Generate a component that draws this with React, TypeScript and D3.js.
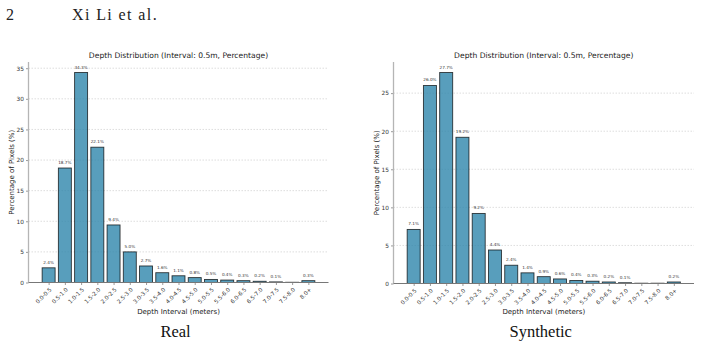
import React, { useRef, useEffect } from 'react';
import * as d3 from 'd3';

// depth bins, 0.5 m each
const depthBins = [
  '0.0-0.5', '0.5-1.0', '1.0-1.5', '1.5-2.0', '2.0-2.5', '2.5-3.0', '3.0-3.5', '3.5-4.0',
  '4.0-4.5', '4.5-5.0', '5.0-5.5', '5.5-6.0', '6.0-6.5', '6.5-7.0', '7.0-7.5', '7.5-8.0', '8.0+',
];

// percentage of pixels per bin
const realPct = [2.4, 18.7, 34.3, 22.1, 9.4, 5.0, 2.7, 1.6, 1.1, 0.8, 0.5, 0.4, 0.3, 0.2, 0.1, 0.04, 0.3];
const synthPct = [7.1, 26.0, 27.7, 19.2, 9.2, 4.4, 2.4, 1.4, 0.9, 0.6, 0.4, 0.3, 0.2, 0.1, 0.04, 0.04, 0.2];

const realTicks = [0, 5, 10, 15, 20, 25, 30, 35];
const synthTicks = [0, 5, 10, 15, 20, 25];

const chartTitle = 'Depth Distribution (Interval: 0.5m, Percentage)';
const xLabel = 'Depth Interval (meters)';
const yLabel = 'Percentage of Pixels (%)';

interface PanelSpec {
  values: number[];
  ticks: number[];
  left: number;
  right: number;
  top: number;
  bottom: number;
  caption: string;
}

const panels: PanelSpec[] = [
  { values: realPct, ticks: realTicks, left: 28.5, right: 328.5, top: 62, bottom: 282.5, caption: 'Real' },
  { values: synthPct, ticks: synthTicks, left: 393.5, right: 694, top: 62, bottom: 283.5, caption: 'Synthetic' },
];

const sans = '"DejaVu Sans", sans-serif';
const serif = '"Liberation Serif", "DejaVu Serif", serif';

const App: React.FC = () => {
  const svgRef = useRef<SVGSVGElement | null>(null);

  useEffect(() => {
    if (!svgRef.current) return;
    const svg = d3.select(svgRef.current);
    svg.selectAll('*').remove();

    // running header
    svg.append('text').attr('x', 6).attr('y', 20)
      .attr('font-family', serif).attr('font-size', 16).attr('fill', '#222').text('2');
    svg.append('text').attr('x', 72).attr('y', 20)
      .attr('font-family', serif).attr('font-size', 16).attr('letter-spacing', 1.4)
      .attr('fill', '#222').text('Xi Li et al.');

    panels.forEach(p => {
      const n = depthBins.length;
      // matplotlib-style limits: bars of width 0.8 with 5% margins
      const x = d3.scaleLinear().domain([-1.24, n - 1 + 1.24]).range([p.left, p.right]);
      const yMax = d3.max(p.values)! * 1.05;
      const y = d3.scaleLinear().domain([0, yMax]).range([p.bottom, p.top]);
      const g = svg.append('g');
      const cx = (p.left + p.right) / 2;

      // grid
      g.append('g').selectAll('line').data(p.ticks).enter().append('line')
        .attr('x1', p.left).attr('x2', p.right)
        .attr('y1', d => y(d)).attr('y2', d => y(d))
        .attr('stroke', '#cfcfcf').attr('stroke-width', 0.7).attr('stroke-dasharray', '1.5,1.5');

      // bars
      g.append('g').selectAll('rect').data(p.values).enter().append('rect')
        .attr('x', (_d, i) => x(i - 0.4))
        .attr('width', x(0.4) - x(-0.4))
        .attr('y', d => y(d))
        .attr('height', d => p.bottom - y(d))
        .attr('fill', '#2E86AB').attr('fill-opacity', 0.8)
        .attr('stroke', '#000').attr('stroke-opacity', 0.75).attr('stroke-width', 0.9);

      // value labels
      g.append('g').selectAll('text').data(p.values.map((v, i) => ({ v, i })).filter(d => d.v >= 0.1))
        .enter().append('text')
        .attr('x', d => x(d.i)).attr('y', d => y(d.v) - 4)
        .attr('text-anchor', 'middle')
        .attr('font-family', sans).attr('font-size', 4.2).attr('fill', '#333')
        .text(d => `${d3.format('.1f')(d.v)}%`);

      // y axis
      const yAxis = g.append('g').attr('transform', `translate(${p.left},0)`)
        .call(d3.axisLeft(y).tickValues(p.ticks).tickSize(2.5).tickPadding(2).tickFormat(d3.format('d')));
      yAxis.select('.domain').remove();
      yAxis.selectAll('line').attr('stroke', '#555').attr('stroke-width', 0.6);
      yAxis.selectAll('text').attr('font-family', sans).attr('font-size', 5.8).attr('fill', '#333');
      g.append('line').attr('x1', p.left).attr('x2', p.left).attr('y1', p.top).attr('y2', p.bottom)
        .attr('stroke', '#b5b5b5').attr('stroke-width', 1.3);

      // x axis
      const xAxis = g.append('g').attr('transform', `translate(0,${p.bottom})`)
        .call(d3.axisBottom(x).tickValues(d3.range(n)).tickSize(2.5).tickFormat(() => ''));
      xAxis.select('.domain').remove();
      xAxis.selectAll('line').attr('stroke', '#555').attr('stroke-width', 0.6);
      g.append('line').attr('x1', p.left).attr('x2', p.right).attr('y1', p.bottom).attr('y2', p.bottom)
        .attr('stroke', '#777').attr('stroke-width', 1);

      g.append('g').selectAll('text').data(depthBins).enter().append('text')
        .attr('transform', (_d, i) => `translate(${x(i) + 2},${p.bottom + 6}) rotate(-45)`)
        .attr('text-anchor', 'end').attr('dy', '0.35em')
        .attr('font-family', sans).attr('font-size', 5.6).attr('fill', '#333')
        .text(d => d);

      // titles and labels
      g.append('text').attr('x', cx).attr('y', 58).attr('text-anchor', 'middle')
        .attr('font-family', sans).attr('font-size', 7.6).attr('fill', '#222').text(chartTitle);
      g.append('text').attr('x', cx).attr('y', 314).attr('text-anchor', 'middle')
        .attr('font-family', sans).attr('font-size', 7).attr('fill', '#222').text(xLabel);
      g.append('text')
        .attr('transform', `translate(${p.left - 15},${(p.top + p.bottom) / 2}) rotate(-90)`)
        .attr('text-anchor', 'middle')
        .attr('font-family', sans).attr('font-size', 7).attr('fill', '#222').text(yLabel);

      // caption under each panel
      g.append('text').attr('x', cx - 3).attr('y', 337).attr('text-anchor', 'middle')
        .attr('font-family', serif).attr('font-size', 16.5).attr('fill', '#111').text(p.caption);
    });
  }, []);

  return (
    <svg ref={svgRef} width={701} height={348}
      style={{ position: 'absolute', left: 0, top: 0, background: '#fff' }} />
  );
};

export default App;
